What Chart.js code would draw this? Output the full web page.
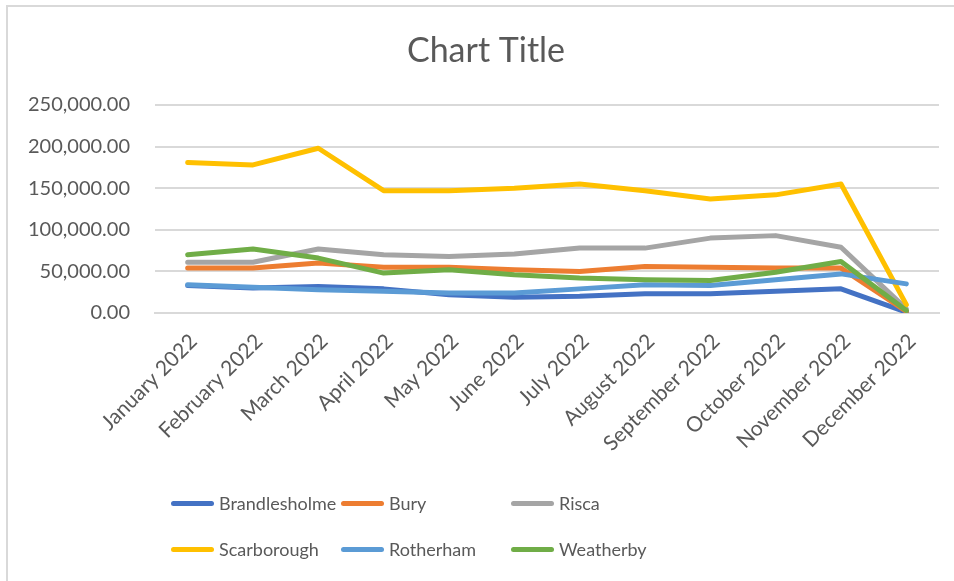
<!DOCTYPE html>
<html>
<head>
<meta charset="utf-8">
<title>Chart Title</title>
<script src="https://cdn.jsdelivr.net/npm/chart.js@4.4.1/dist/chart.umd.min.js"></script>
<style>
    html, body { margin: 0; padding: 0; background: #fff; }
    #wrap { position: relative; width: 954px; height: 581px; overflow: hidden; }
    #frame { position: absolute; left: 6px; top: 5px; width: 1000px; height: 1000px;
             border-top: 2px solid #d9d9d9; border-left: 2px solid #d9d9d9; }
    #chart { position: absolute; left: 0; top: 0; }
    #legend { position: absolute; left: 171px; top: 490px;
              display: grid; grid-template-columns: 170px 170px 170px; row-gap: 20px; }
    .item { display: flex; align-items: center; height: 26px;
            font: 18px Lato, "Open Sans", sans-serif; color: #595959; white-space: nowrap; }
    .swatch { width: 43px; height: 5px; border-radius: 3px; margin-right: 5px; }
</style>
</head>
<body>
<div id="wrap">
    <div id="frame"></div>
    <canvas id="chart" width="954" height="581"></canvas>
    <div id="legend"></div>
</div>
<script>
const chartTitle = 'Chart Title';

const months = ['January 2022', 'February 2022', 'March 2022', 'April 2022', 'May 2022', 'June 2022',
    'July 2022', 'August 2022', 'September 2022', 'October 2022', 'November 2022', 'December 2022'];

const brandlesholme = [33000, 30000, 32000, 29000, 22000, 19000, 20000, 23000, 23000, 26000, 29000, 1000];
const bury          = [54000, 54000, 60000, 55000, 55000, 52000, 50000, 56000, 55000, 54000, 54000, 2000];
const risca         = [61000, 61000, 77000, 70000, 68000, 71000, 78000, 78000, 90000, 93000, 79000, 5000];
const scarborough   = [181000, 178000, 198000, 147000, 147000, 150000, 155000, 147000, 137000, 142000, 155000, 10000];
const rotherham     = [34000, 31000, 28000, 26000, 24000, 24000, 29000, 34000, 33000, 40000, 47000, 35000];
const weatherby     = [70000, 77000, 66000, 48000, 52000, 46000, 42000, 40000, 39000, 49000, 62000, 3000];

const seriesNames  = ['Brandlesholme', 'Bury', 'Risca', 'Scarborough', 'Rotherham', 'Weatherby'];
const seriesValues = [brandlesholme, bury, risca, scarborough, rotherham, weatherby];
const seriesColors = ['#4472C4', '#ED7D31', '#A5A5A5', '#FFC000', '#5B9BD5', '#70AD47'];

const yTicks = [0, 50000, 100000, 150000, 200000, 250000];

const fontFamily = 'Lato, "Open Sans", sans-serif';
const textColor = '#595959';
const gridColor = '#d9d9d9';

function formatNumber(value) {
    return Number(value).toLocaleString('en-US', { minimumFractionDigits: 2, maximumFractionDigits: 2 });
}

// Excel centres the title on the whole chart frame, not the plot, so draw it ourselves
const titlePlugin = {
    id: 'excelTitle',
    afterDraw(chart) {
        const ctx = chart.ctx;
        ctx.save();
        ctx.font = `34px ${fontFamily}`;
        ctx.fillStyle = textColor;
        ctx.textAlign = 'center';
        ctx.textBaseline = 'middle';
        ctx.fillText(chartTitle, 486, 51);
        ctx.restore();
    }
};

const datasets = seriesNames.map((name, i) => ({
    label: name,
    data: seriesValues[i],
    borderColor: seriesColors[i],
    backgroundColor: seriesColors[i],
    borderWidth: 5,
    borderCapStyle: 'round',
    borderJoinStyle: 'round',
    pointRadius: 0,
    tension: 0,
    fill: false,
    order: seriesNames.length - i // later series drawn on top, like Excel
}));

const chart = new Chart(document.getElementById('chart'), {
    type: 'line',
    data: { labels: months, datasets: datasets },
    plugins: [titlePlugin],
    options: {
        responsive: false,
        animation: false,
        layout: { padding: { left: 8, right: 15, top: 105, bottom: 0 } },
        plugins: {
            legend: { display: false },
            tooltip: { enabled: false },
            title: { display: false }
        },
        scales: {
            x: {
                offset: true,
                grid: { display: false },
                border: { display: true, color: gridColor, width: 2 },
                ticks: {
                    color: textColor,
                    font: { family: fontFamily, size: 21 },
                    minRotation: 45,
                    maxRotation: 45,
                    autoSkip: false,
                    padding: 8,
                    labelOffset: 6
                },
                afterFit: (scale) => { scale.height = 268; }
            },
            y: {
                min: 0,
                max: 250000,
                afterBuildTicks: (scale) => { scale.ticks = yTicks.map(v => ({ value: v })); },
                ticks: {
                    color: textColor,
                    font: { family: fontFamily, size: 20 },
                    padding: 25,
                    callback: (value) => formatNumber(value)
                },
                grid: { color: gridColor, lineWidth: 2, drawTicks: false },
                border: { display: false },
                afterFit: (scale) => { scale.width = 147; }
            }
        }
    }
});

// Excel-style legend: fixed three-column grid under the plot
const legendBox = document.getElementById('legend');
chart.data.datasets.forEach(ds => {
    legendBox.innerHTML += `
        <div class="item"><span class="swatch" style="background:${ds.borderColor}"></span>${ds.label}</div>
    `;
});
</script>
</body>
</html>
